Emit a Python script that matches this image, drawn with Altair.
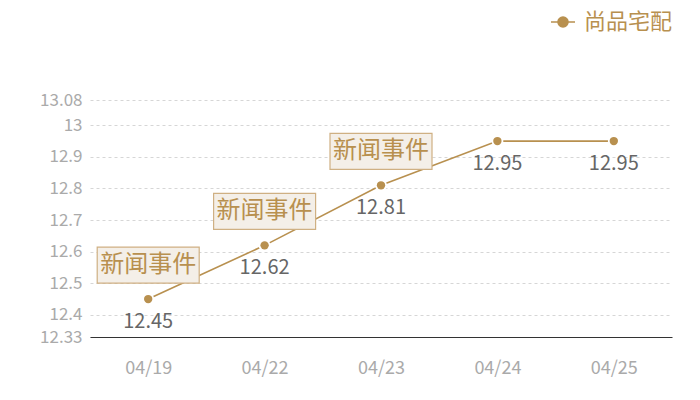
import altair as alt
import pandas as pd

dates = ["04/19", "04/22", "04/23", "04/24", "04/25"]
values = [12.45, 12.62, 12.81, 12.95, 12.95]
series = "尚品宅配"
event_dates = ["04/19", "04/22", "04/23"]
event_label = "新闻事件"
y_ticks = [12.33, 12.4, 12.5, 12.6, 12.7, 12.8, 12.9, 13.0, 13.08]

GOLD = "#b8904f"
FONT = "Noto Sans CJK SC"

df = pd.DataFrame({"date": dates, "value": values, "series": series})
ev = df[df["date"].isin(event_dates)].assign(label=event_label)

x = alt.X("date:O", sort=dates, title=None,
          scale=alt.Scale(type="point", padding=0.5),
          axis=alt.Axis(labelAngle=0, labelColor="#aaaaaa", labelFontSize=18,
                        labelFont=FONT, ticks=False, labelPadding=22,
                        domainColor="#333333", domainWidth=1, grid=False))
y = alt.Y("value:Q", title=None,
          scale=alt.Scale(domain=[12.33, 13.08], nice=False, zero=False),
          axis=alt.Axis(values=y_ticks, labelExpr="datum.value + ''", labelColor="#aaaaaa",
                        labelFontSize=17, labelFont=FONT, ticks=False,
                        domain=False, labelPadding=8, grid=True,
                        gridColor="#d6d6d6", gridDash=[3, 3], gridWidth=1))

legend_path = "M-1,0L1,0M-0.42,0A0.42,0.42 0 1,1 0.42,0A0.42,0.42 0 1,1 -0.42,0Z"
color = alt.Color("series:N", scale=alt.Scale(range=[GOLD]),
                  legend=alt.Legend(title=None, orient="none", legendX=460, legendY=-91,
                                    symbolType=legend_path, symbolSize=576,
                                    symbolStrokeWidth=1.5, symbolFillColor=GOLD,
                                    symbolStrokeColor=GOLD,
                                    labelFontSize=22, labelFont=FONT, labelColor=GOLD,
                                    labelOffset=8, labelLimit=300))

line = alt.Chart(df).mark_line(strokeWidth=1.6).encode(x=x, y=y, color=color)
pts = alt.Chart(df).mark_point(filled=True, size=80, opacity=1, stroke="white",
                               strokeWidth=3, fill=GOLD).encode(x=x, y=y)
pts2 = alt.Chart(df).mark_point(filled=True, size=70, opacity=1, fill=GOLD).encode(x=x, y=y)
labels = alt.Chart(df).mark_text(dy=23, fontSize=20, font=FONT, color="#666666").encode(
    x=x, y=y, text=alt.Text("value:Q", format=".2f"))
boxes = alt.Chart(ev).mark_rect(width=102, height=36, yOffset=-34, fill="#f4efe8",
                                stroke="#cfb083", strokeWidth=1.2).encode(x=x, y=y)
box_text = alt.Chart(ev).mark_text(dy=-34, fontSize=24, font=FONT, color=GOLD).encode(
    x=x, y=y, text="label:N")

chart = alt.layer(line, pts, pts2, labels, boxes, box_text).properties(
    width=582, height=237,
    autosize=alt.AutoSizeParams(type="none"),
    padding={"left": 82, "top": 92, "right": 18, "bottom": 50},
    background="white",
).configure_view(stroke=None)

chart.save("out.html", embed_options={"renderer": "svg", "actions": False})
